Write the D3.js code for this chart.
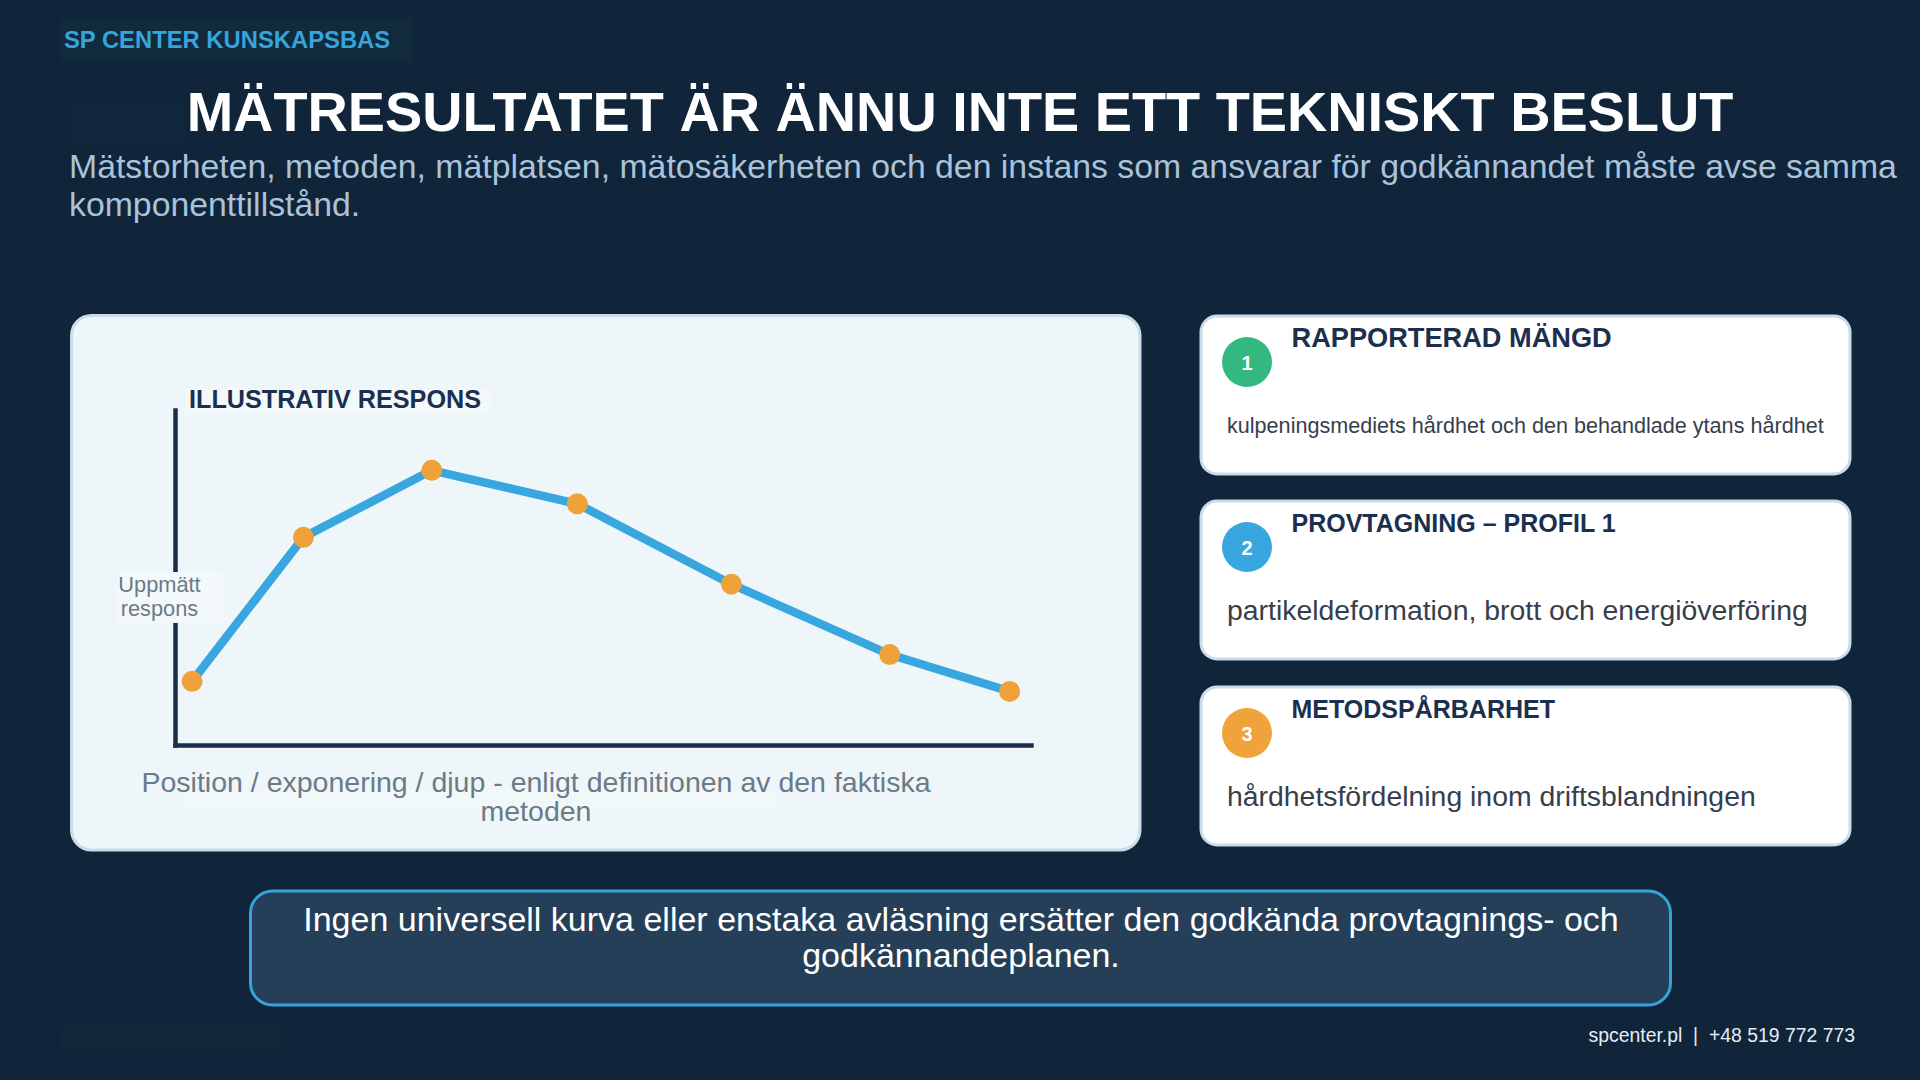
<!DOCTYPE html>
<html>
<head>
<meta charset="utf-8">
<script src="https://cdn.jsdelivr.net/npm/d3@7"></script>
<style>
  body { margin: 0; background: #10243a; overflow: hidden; }
  svg { display: block; font-family: "Liberation Sans", Arial, sans-serif; }
</style>
</head>
<body>
<div id="slide"></div>
<script>
const W = 1920, H = 1080;

// chart data (illustrative curve)
const positions = [2, 15, 30, 47, 65, 83.5, 97.5];
const response = [19, 62, 82, 72, 48, 27, 16];

// texts
const header = "SP CENTER KUNSKAPSBAS";
const title = "MÄTRESULTATET ÄR ÄNNU INTE ETT TEKNISKT BESLUT";
const subtitleLines = [
  "Mätstorheten, metoden, mätplatsen, mätosäkerheten och den instans som ansvarar för godkännandet måste avse samma",
  "komponenttillstånd."
];
const chartTitle = "ILLUSTRATIV RESPONS";
const yLabelLines = ["Uppmätt", "respons"];
const xLabelLines = ["Position / exponering / djup - enligt definitionen av den faktiska", "metoden"];

const cardNumbers = ["1", "2", "3"];
const cardTitles = ["RAPPORTERAD MÄNGD", "PROVTAGNING – PROFIL 1", "METODSPÅRBARHET"];
const cardTexts = [
  "kulpeningsmediets hårdhet och den behandlade ytans hårdhet",
  "partikeldeformation, brott och energiöverföring",
  "hårdhetsfördelning inom driftsblandningen"
];
const bannerLines = [
  "Ingen universell kurva eller enstaka avläsning ersätter den godkända provtagnings- och",
  "godkännandeplanen."
];
const footer = "spcenter.pl  |  +48 519 772 773";

// styles
const navy = "#1b2f4e";
const grey = "#6b7a87";
const cardColors = ["#33b882", "#38a6df", "#f0a33b"];
const cardTitleSize = [27.2, 25, 25];
const cardTextSize = [21.6, 28.4, 28.4];
const cardTop = [316, 501, 687];

const svg = d3.select("#slide")
  .append("svg")
  .attr("width", W)
  .attr("height", H)
  .attr("viewBox", [0, 0, W, H]);

svg.append("rect").attr("width", W).attr("height", H).attr("fill", "#10243a");

// faint text boxes from the source slide
svg.append("rect").attr("x", 61).attr("y", 18).attr("width", 352).attr("height", 44).attr("fill", "#112a3c");
svg.append("rect").attr("x", 71).attr("y", 104).attr("width", 115).attr("height", 40).attr("fill", "#11283c");
svg.append("rect").attr("x", 61).attr("y", 1026).attr("width", 221).attr("height", 22).attr("fill", "#11283a");

// header + title
svg.append("text").attr("x", 64).attr("y", 47.5)
  .text(header)
  .style("font-size", "23.8px").style("font-weight", "bold").attr("fill", "#36a4dd");

svg.append("text").attr("x", 960).attr("y", 131)
  .attr("text-anchor", "middle")
  .text(title)
  .style("font-size", "55.8px").style("font-weight", "bold").attr("fill", "#ffffff");

svg.append("g")
  .selectAll("text")
  .data(subtitleLines)
  .join("text")
  .attr("x", 69)
  .attr("y", (d, i) => 178 + i * 37.5)
  .text(d => d)
  .style("font-size", "33.8px").attr("fill", "#a9c3da");

// chart panel
svg.append("rect")
  .attr("x", 71.5).attr("y", 315.5).attr("width", 1068.5).attr("height", 534.5)
  .attr("rx", 20)
  .attr("fill", "#eef6f9").attr("stroke", "#c8dcea").attr("stroke-width", 3);

const x = d3.scaleLinear([0, 100], [175, 1031]);
const y = d3.scaleLinear([0, 100], [745, 410]);

const xAxis = svg.append("g")
  .attr("transform", `translate(0,${y(0)})`)
  .call(d3.axisBottom(x).ticks(0).tickSizeOuter(0));
const yAxis = svg.append("g")
  .attr("transform", `translate(${x(0)},0)`)
  .call(d3.axisLeft(y).ticks(0).tickSizeOuter(0));
[xAxis, yAxis].forEach(a => a.select(".domain")
  .attr("stroke", "#1b2e49").attr("stroke-width", 4.5).attr("stroke-linecap", "square"));

// chart title
svg.append("rect").attr("x", 186).attr("y", 389).attr("width", 304).attr("height", 25).attr("fill", "#f3f9fb");
svg.append("text").attr("x", 189).attr("y", 408)
  .text(chartTitle)
  .style("font-size", "25.2px").style("font-weight", "bold").attr("fill", navy);

// line + points
const pts = positions.map((p, i) => [p, response[i]]);
svg.append("path")
  .datum(pts)
  .attr("fill", "none")
  .attr("stroke", "#38a6df")
  .attr("stroke-width", 8.5)
  .attr("stroke-linejoin", "round")
  .attr("d", d3.line().x(d => x(d[0])).y(d => y(d[1])));

svg.append("g")
  .selectAll("circle")
  .data(pts)
  .join("circle")
  .attr("cx", d => x(d[0]))
  .attr("cy", d => y(d[1]))
  .attr("r", 10.5)
  .attr("fill", "#f0a23a");

// y label (sits on a box that hides the axis)
svg.append("rect").attr("x", 118).attr("y", 572).attr("width", 105).attr("height", 51).attr("fill", "#f3f9fb");
svg.append("g")
  .selectAll("text")
  .data(yLabelLines)
  .join("text")
  .attr("x", 159.5)
  .attr("y", (d, i) => 592 + i * 24)
  .attr("text-anchor", "middle")
  .text(d => d)
  .style("font-size", "21.8px").attr("fill", grey);

// x label
svg.append("rect").attr("x", 186).attr("y", 790).attr("width", 588).attr("height", 23).attr("fill", "#f1f8fa");
svg.append("g")
  .selectAll("text")
  .data(xLabelLines)
  .join("text")
  .attr("x", 536)
  .attr("y", (d, i) => 791.5 + i * 29.5)
  .attr("text-anchor", "middle")
  .text(d => d)
  .style("font-size", "28.5px").attr("fill", grey);

// cards
const cards = svg.append("g")
  .selectAll("g")
  .data(cardTitles)
  .join("g")
  .attr("transform", (d, i) => `translate(1201,${cardTop[i]})`);

cards.append("rect")
  .attr("width", 649).attr("height", 158).attr("rx", 16)
  .attr("fill", "#ffffff").attr("stroke", "#c8dcea").attr("stroke-width", 3);

cards.append("circle")
  .attr("cx", 46).attr("cy", 46).attr("r", 25)
  .attr("fill", (d, i) => cardColors[i]);

cards.append("text")
  .attr("x", 46).attr("y", 53.5)
  .attr("text-anchor", "middle")
  .text((d, i) => cardNumbers[i])
  .style("font-size", "20px").style("font-weight", "bold").attr("fill", "#ffffff");

cards.append("text")
  .attr("x", 90.5).attr("y", 30.5)
  .text(d => d)
  .style("font-size", (d, i) => cardTitleSize[i] + "px")
  .style("font-weight", "bold").attr("fill", navy);

cards.append("text")
  .attr("x", 26).attr("y", (d, i) => i === 0 ? 117 : 119)
  .text((d, i) => cardTexts[i])
  .style("font-size", (d, i) => cardTextSize[i] + "px")
  .attr("fill", "#373e4b");

// bottom banner
svg.append("rect")
  .attr("x", 250.5).attr("y", 891).attr("width", 1420).attr("height", 114)
  .attr("rx", 22)
  .attr("fill", "#263f58").attr("stroke", "#36a3dc").attr("stroke-width", 3);

svg.append("g")
  .selectAll("text")
  .data(bannerLines)
  .join("text")
  .attr("x", 961)
  .attr("y", (d, i) => 931 + i * 36)
  .attr("text-anchor", "middle")
  .text(d => d)
  .style("font-size", "34px").attr("fill", "#ffffff");

// footer
svg.append("text")
  .attr("x", 1855).attr("y", 1041.5)
  .attr("text-anchor", "end")
  .style("white-space", "pre")
  .text(footer)
  .style("font-size", "19.4px").attr("fill", "#e6edf3");
</script>
</body>
</html>
